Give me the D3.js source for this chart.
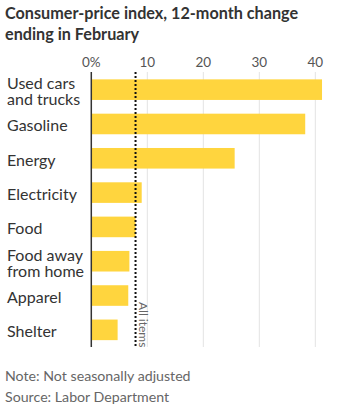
<!DOCTYPE html>
<html lang="en">
<head>
<meta charset="UTF-8">
<title>Consumer-price index</title>
<style>
  body { margin: 0; background: #fff; }
  svg { display: block; font-family: Lato, 'Open Sans', sans-serif; }
  .title { font-size: 16.2px; font-weight: bold; fill: #333; }
  .cat { font-size: 16px; fill: #333; }
  .tick text { font-size: 13.5px; fill: #555; }
  .note { font-size: 14.2px; fill: #666; }
</style>
</head>
<body>
<div id="chart"></div>
<script src="https://d3js.org/d3.v7.min.js"></script>
<script>
// data
const categories = ["Used cars\nand trucks", "Gasoline", "Energy", "Electricity", "Food",
                    "Food away\nfrom home", "Apparel", "Shelter"];
const values = [41.2, 38.2, 25.6, 9.0, 7.9, 6.8, 6.6, 4.7];
const allItems = 7.9;
const tickValues = [0, 10, 20, 30, 40];

const width = 346, height = 413;

const svg = d3.select("#chart").append("svg")
    .attr("width", width)
    .attr("height", height);

// title
svg.append("text").attr("class", "title").attr("x", 5).attr("y", 19)
    .text("Consumer-price index, 12-month change");
svg.append("text").attr("class", "title").attr("x", 5).attr("y", 40)
    .text("ending in February");

const x = d3.scaleLinear().domain([0, 40]).range([91.3, 315.3]);
const y = d3.scaleBand().domain(categories).range([72.5, 347]).paddingInner(0.4).paddingOuter(0.2);

// gridlines
svg.append("g")
    .selectAll("line")
    .data(tickValues.slice(1))
    .enter().append("line")
    .attr("x1", d => x(d)).attr("x2", d => x(d))
    .attr("y1", 72).attr("y2", 347)
    .attr("stroke", "#e3e3e3")
    .attr("stroke-width", 1);

// tick labels
const tick = svg.append("g").attr("class", "tick");
tick.selectAll("text")
    .data(tickValues)
    .enter().append("text")
    .attr("x", d => x(d))
    .attr("y", 67)
    .attr("text-anchor", "middle")
    .text(d => d === 0 ? "0%" : d);

// bars
svg.append("g")
    .selectAll("rect")
    .data(values)
    .enter().append("rect")
    .attr("x", x(0))
    .attr("y", (d, i) => y(categories[i]))
    .attr("width", d => x(d) - x(0))
    .attr("height", y.bandwidth())
    .attr("fill", "#ffd53e");

// zero axis
svg.append("line")
    .attr("x1", x(0)).attr("x2", x(0))
    .attr("y1", 72).attr("y2", 347)
    .attr("stroke", "#333")
    .attr("stroke-width", 1.5);

// all items marker
svg.append("line")
    .attr("x1", x(allItems)).attr("x2", x(allItems))
    .attr("y1", 72).attr("y2", 347)
    .attr("stroke", "#111")
    .attr("stroke-width", 2)
    .attr("stroke-dasharray", "2,2");

svg.append("text")
    .attr("transform", `translate(${x(allItems) + 3},302) rotate(90)`)
    .attr("font-size", 12)
    .attr("fill", "#666")
    .text("All items");

// category labels
const cat = svg.append("g");
categories.forEach((c, i) => {
    const lines = c.split("\n");
    const cy = y(c) + y.bandwidth() / 2;
    const t = cat.append("text").attr("class", "cat");
    lines.forEach((l, j) => {
        t.append("tspan")
            .attr("x", 7)
            .attr("y", cy + 7.5 + (j - (lines.length - 1) / 2) * 16.3)
            .text(l);
    });
});

// notes
svg.append("text").attr("class", "note").attr("x", 5).attr("y", 381)
    .text("Note: Not seasonally adjusted");
svg.append("text").attr("class", "note").attr("x", 5).attr("y", 402)
    .text("Source: Labor Department");
</script>
</body>
</html>
